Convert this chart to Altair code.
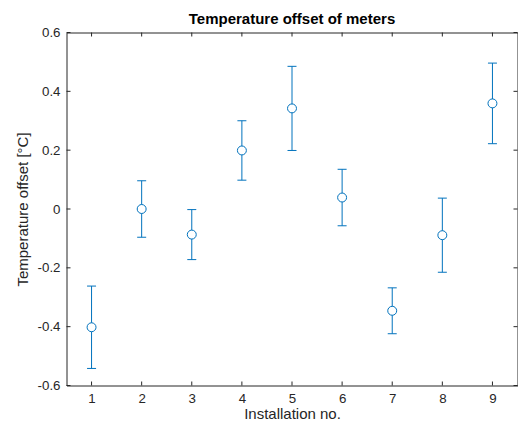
import altair as alt
import pandas as pd

# ---- data ----
installation = [1, 2, 3, 4, 5, 6, 7, 8, 9]
offset = [-0.402, 0.000, -0.087, 0.199, 0.342, 0.039, -0.346, -0.089, 0.359]
error = [0.140, 0.096, 0.085, 0.101, 0.143, 0.096, 0.078, 0.126, 0.137]

x_ticks = [1, 2, 3, 4, 5, 6, 7, 8, 9]
y_ticks = [-0.6, -0.4, -0.2, 0.0, 0.2, 0.4, 0.6]
x_domain = [0.5, 9.5]
y_domain = [-0.6, 0.6]
chart_title = ["Temperature offset of meters"]

df = pd.DataFrame({
    "inst": installation,
    "offset": offset,
    "lo": [o - e for o, e in zip(offset, error)],
    "hi": [o + e for o, e in zip(offset, error)],
})
xticks_df = pd.DataFrame({"t": x_ticks})
yticks_df = pd.DataFrame({"t": y_ticks})
title_df = pd.DataFrame({"label": chart_title})

W, H = 451, 353
PAD_LEFT, PAD_RIGHT = 58.5, 0.5
PAD_TOP, PAD_BOTTOM = 24.5, 36.5
BLUE = "#0072BD"
INK = "#262626"
FONT = "Liberation Sans"
TICK = 4

xscale = alt.Scale(domain=x_domain, nice=False, zero=False)
yscale = alt.Scale(domain=y_domain, nice=False, zero=False)

xaxis = alt.Axis(
    values=x_ticks, title="Installation no.", format="d",
    domain=False, ticks=False, grid=False,
    labelPadding=17, labelBaseline="alphabetic",
    labelFont=FONT, labelFontSize=13.3, labelColor=INK,
    titleFont=FONT, titleFontSize=15, titleFontWeight="normal", titleColor=INK,
    titleBaseline="alphabetic", titleX=W / 2, titleY=33,
)
yaxis = alt.Axis(
    values=y_ticks, title="Temperature offset [°C]",
    labelExpr="(datum.value < -1e-9 ? '-' : '') + format(abs(datum.value), '.1~f')",
    domain=False, ticks=False, grid=False,
    labelPadding=6.5, labelFont=FONT, labelFontSize=13.3, labelColor=INK,
    titleFont=FONT, titleFontSize=15, titleFontWeight="normal", titleColor=INK,
    titleBaseline="alphabetic", titleX=-39.5, titleY=H / 2, titleAngle=270,
)


def X(field):
    return alt.X(field, type="quantitative", scale=xscale, axis=xaxis)


def Y(field):
    return alt.Y(field, type="quantitative", scale=yscale, axis=yaxis)


bars = alt.Chart(df).mark_rule(color=BLUE, strokeWidth=1).encode(
    x=X("inst"), y=Y("lo"), y2="hi"
)
caps_lo = alt.Chart(df).mark_tick(
    orient="horizontal", size=9, thickness=1, color=BLUE, opacity=1
).encode(x=X("inst"), y=Y("lo"))
caps_hi = alt.Chart(df).mark_tick(
    orient="horizontal", size=9, thickness=1, color=BLUE, opacity=1
).encode(x=X("inst"), y=Y("hi"))
points = alt.Chart(df).mark_point(
    shape="circle", size=80, filled=True, fill="white", stroke=BLUE,
    strokeWidth=1, opacity=1
).encode(x=X("inst"), y=Y("offset"))

xt_bottom = alt.Chart(xticks_df).mark_rule(color=INK, strokeWidth=1).encode(
    x=X("t"), y=alt.value(H), y2=alt.value(H - TICK)
)
xt_top = alt.Chart(xticks_df).mark_rule(color=INK, strokeWidth=1).encode(
    x=X("t"), y=alt.value(0), y2=alt.value(TICK)
)
yt_left = alt.Chart(yticks_df).mark_rule(color=INK, strokeWidth=1).encode(
    y=Y("t"), x=alt.value(0), x2=alt.value(TICK)
)
yt_right = alt.Chart(yticks_df).mark_rule(color=INK, strokeWidth=1).encode(
    y=Y("t"), x=alt.value(W), x2=alt.value(W - TICK)
)

title_text = alt.Chart(title_df).mark_text(
    font=FONT, fontSize=15, fontWeight="bold", color="#000000",
    align="center", baseline="alphabetic",
).encode(text="label:N", x=alt.value(W / 2), y=alt.value(-9))

chart = alt.layer(
    xt_bottom, xt_top, yt_left, yt_right, bars, caps_lo, caps_hi, points,
    title_text,
).properties(
    width=W, height=H,
    autosize=alt.AutoSizeParams(type="none"),
    padding={"left": PAD_LEFT, "top": PAD_TOP, "right": PAD_RIGHT,
             "bottom": PAD_BOTTOM},
    background="white",
).configure_view(stroke=INK, strokeWidth=1)

chart.save("out.html", embed_options={"renderer": "svg", "actions": False})
